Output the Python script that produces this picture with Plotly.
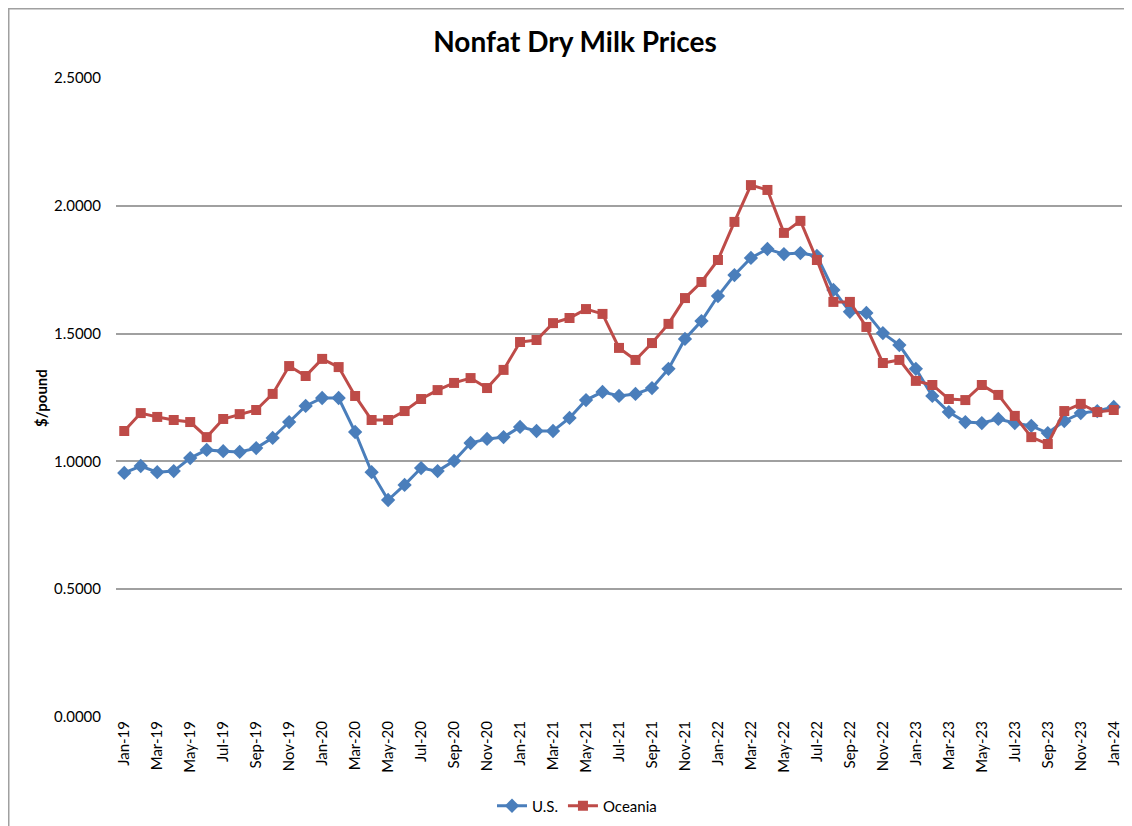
import plotly.graph_objects as go

months = ["Jan", "Feb", "Mar", "Apr", "May", "Jun", "Jul", "Aug", "Sep", "Oct", "Nov", "Dec"]
categories = [f"{m}-{y:02d}" for y in range(19, 24) for m in months] + ["Jan-24"]

us = [0.955, 0.982, 0.958, 0.962, 1.013, 1.045, 1.040, 1.037, 1.052, 1.092, 1.154, 1.217,
      1.248, 1.248, 1.115, 0.958, 0.849, 0.908, 0.974, 0.962, 1.002, 1.072, 1.088, 1.095,
      1.135, 1.119, 1.119, 1.170, 1.240, 1.272, 1.256, 1.264, 1.287, 1.362, 1.479, 1.549,
      1.647, 1.729, 1.796, 1.831, 1.811, 1.815, 1.804, 1.671, 1.585, 1.581, 1.502, 1.455,
      1.362, 1.256, 1.193, 1.154, 1.150, 1.166, 1.150, 1.139, 1.111, 1.158, 1.189, 1.197,
      1.213]

oceania = [1.119, 1.189, 1.174, 1.162, 1.154, 1.095, 1.166, 1.185, 1.201, 1.264, 1.373, 1.334,
           1.401, 1.369, 1.256, 1.162, 1.162, 1.197, 1.244, 1.279, 1.307, 1.326, 1.287, 1.358,
           1.467, 1.475, 1.541, 1.561, 1.596, 1.577, 1.444, 1.397, 1.463, 1.538, 1.639, 1.702,
           1.788, 1.937, 2.081, 2.062, 1.894, 1.941, 1.788, 1.624, 1.624, 1.526, 1.385, 1.397,
           1.315, 1.299, 1.244, 1.240, 1.299, 1.260, 1.178, 1.095, 1.068, 1.197, 1.225, 1.193,
           1.201]

ytickvals = [0.0, 0.5, 1.0, 1.5, 2.0, 2.5]
ytext = [f"{v:.4f}" for v in ytickvals]
xtickvals = categories[::2]

FONT = "Lato, 'Open Sans', sans-serif"

W, H = 1124, 818
L, R, T, B = 108, 10, 70, 109
PW, PH = W - L - R, H - T - B

fig = go.Figure()
fig.add_trace(go.Scatter(
    x=categories, y=us, name="U.S.", mode="lines+markers",
    line=dict(color="#4a7ebb", width=3),
    marker=dict(symbol="diamond", size=11, color="#4a7ebb"),
))
fig.add_trace(go.Scatter(
    x=categories, y=oceania, name="Oceania", mode="lines+markers",
    line=dict(color="#be4b48", width=3),
    marker=dict(symbol="square", size=10, color="#be4b48"),
))

fig.update_layout(
    width=W, height=H,
    margin=dict(l=L, r=R, t=T, b=B, autoexpand=False),
    paper_bgcolor="white", plot_bgcolor="white",
    font=dict(family=FONT, size=15, color="black"),
    title=dict(text="<b>Nonfat Dry Milk Prices</b>", x=(567 - L) / PW, xref="paper",
               xanchor="center", y=1 - 34 / H, yanchor="middle",
               font=dict(family=FONT, size=28, color="black")),
    showlegend=True,
    legend=dict(orientation="h", x=(569 - L) / PW, xanchor="center",
                y=-(798 - (T + PH)) / PH, yanchor="middle",
                font=dict(size=15), bgcolor="rgba(0,0,0,0)"),
    xaxis=dict(
        type="category", categoryorder="array", categoryarray=categories,
        range=[-0.5, len(categories) - 0.5],
        tickmode="array", tickvals=xtickvals, ticktext=xtickvals,
        tickangle=-90, tickfont=dict(size=15), showgrid=False,
        showline=False, ticks="", zeroline=False, automargin=False,
    ),
    yaxis=dict(
        range=[0, 2.5], tickmode="array", tickvals=ytickvals, ticktext=ytext,
        tickfont=dict(size=15), showgrid=True, gridcolor="#a0a0a0", gridwidth=1.5,
        zeroline=False, showline=False, ticks="", ticklen=0, automargin=False,
        ticklabelstandoff=14,
    ),
    annotations=[dict(
        text="<b>$/pound</b>", xref="paper", yref="paper",
        x=(33 - L) / PW, y=(T + PH - 390) / PH, textangle=-90,
        showarrow=False, font=dict(family=FONT, size=15, color="black"),
        xanchor="center", yanchor="middle",
    )],
    shapes=[dict(
        type="rect", xref="paper", yref="paper",
        x0=(0.75 - L) / PW, x1=(W + 40 - L) / PW,
        y0=(T + PH - (H + 40)) / PH, y1=(T + PH - 0.75) / PH,
        line=dict(color="#a0a0a0", width=1.5), layer="below",
    )],
)

fig.write_html("out.html")
